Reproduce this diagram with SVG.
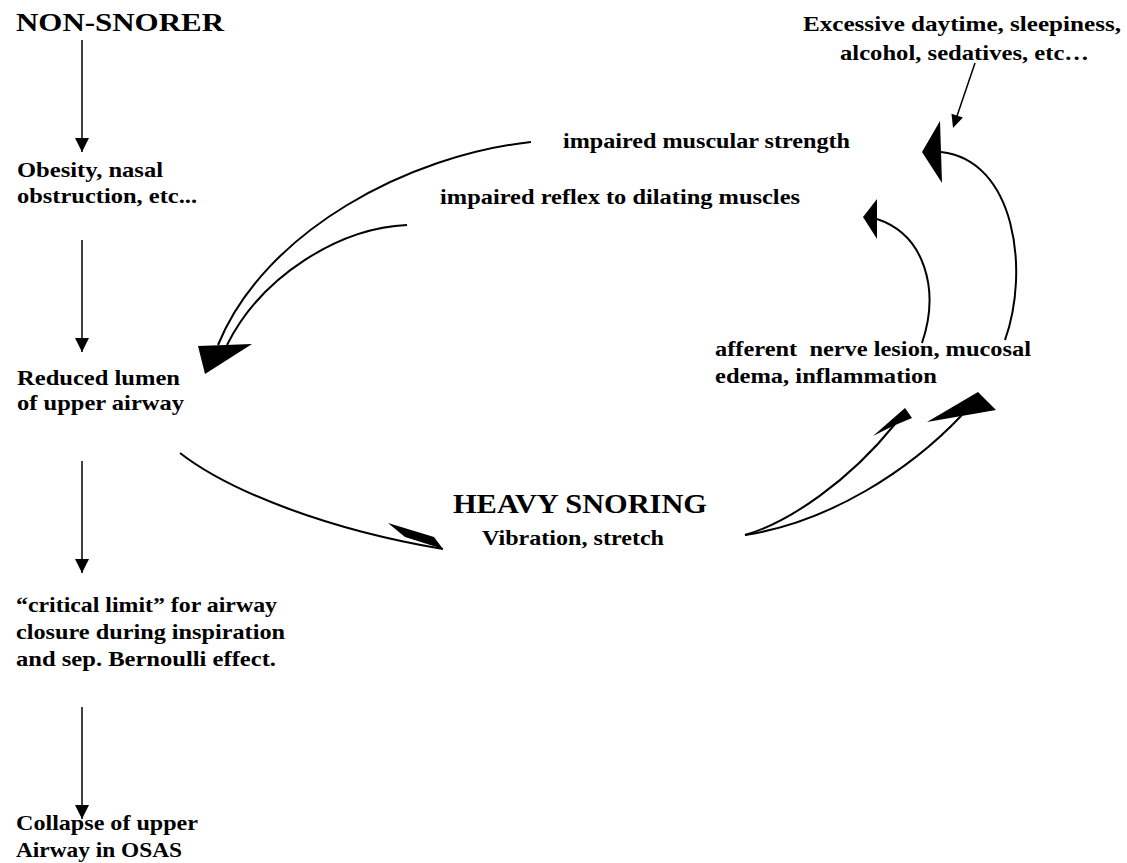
<svg xmlns="http://www.w3.org/2000/svg" width="1127" height="863" viewBox="0 0 1127 863">
<style>
text{font-family:"Liberation Serif","Times New Roman",serif;font-weight:bold;fill:#000;}
.b{font-size:22px;}
.h{font-size:26px;}
.c{fill:none;stroke:#000;stroke-width:2;}
.v{fill:none;stroke:#000;stroke-width:1.5;}
.ah{fill:#000;stroke:none;}
</style>
<defs>
<marker id="arr" viewBox="0 0 14 15" refX="14" refY="7" markerWidth="14" markerHeight="15" markerUnits="userSpaceOnUse" orient="auto">
<path d="M0,0 L14,7 L0,14 Z" fill="#000"/>
</marker>
</defs>
<rect width="1127" height="863" fill="#fff"/>
<g id="non-snorer"><text class="h" x="16" y="31" textLength="208" lengthAdjust="spacingAndGlyphs">NON-SNORER</text></g>
<g id="obesity">
<text class="b" x="17" y="177" textLength="146" lengthAdjust="spacingAndGlyphs">Obesity, nasal</text>
<text class="b" x="17" y="203" textLength="180" lengthAdjust="spacingAndGlyphs">obstruction, etc...</text>
</g>
<g id="reduced-lumen">
<text class="b" x="17" y="385" textLength="163" lengthAdjust="spacingAndGlyphs">Reduced lumen</text>
<text class="b" x="17" y="410" textLength="167" lengthAdjust="spacingAndGlyphs">of upper airway</text>
</g>
<g id="critical-limit">
<text class="b" x="16" y="612" textLength="261" lengthAdjust="spacingAndGlyphs">“critical limit” for airway</text>
<text class="b" x="16" y="639" textLength="269" lengthAdjust="spacingAndGlyphs">closure during inspiration</text>
<text class="b" x="16" y="666" textLength="260" lengthAdjust="spacingAndGlyphs">and sep. Bernoulli effect.</text>
</g>
<g id="collapse">
<text class="b" x="16" y="830" textLength="182" lengthAdjust="spacingAndGlyphs">Collapse of upper</text>
<text class="b" x="16" y="857" textLength="166" lengthAdjust="spacingAndGlyphs">Airway in OSAS</text>
</g>
<g id="muscular-strength"><text class="b" x="563" y="148" textLength="287" lengthAdjust="spacingAndGlyphs">impaired muscular strength</text></g>
<g id="reflex"><text class="b" x="440" y="204" textLength="360" lengthAdjust="spacingAndGlyphs">impaired reflex to dilating muscles</text></g>
<g id="excessive">
<text class="b" x="803" y="31" textLength="318" lengthAdjust="spacingAndGlyphs">Excessive daytime, sleepiness,</text>
<text class="b" x="840" y="60" textLength="249" lengthAdjust="spacingAndGlyphs">alcohol, sedatives, etc…</text>
</g>
<g id="afferent">
<text class="b" x="715" y="356" textLength="316" lengthAdjust="spacingAndGlyphs" xml:space="preserve">afferent  nerve lesion, mucosal</text>
<text class="b" x="715" y="383" textLength="222" lengthAdjust="spacingAndGlyphs">edema, inflammation</text>
</g>
<g id="heavy-snoring">
<text class="h" x="453" y="513" style="font-size:27px" textLength="254" lengthAdjust="spacingAndGlyphs">HEAVY SNORING</text>
<text class="b" x="482" y="545" textLength="182" lengthAdjust="spacingAndGlyphs">Vibration, stretch</text>
</g>
<g id="connectors">
<line class="v" x1="82" y1="40" x2="82" y2="152" marker-end="url(#arr)"/>
<line class="v" x1="82" y1="240" x2="82" y2="352" marker-end="url(#arr)"/>
<line class="v" x1="82" y1="461" x2="82" y2="573" marker-end="url(#arr)"/>
<line class="v" x1="82" y1="707" x2="82" y2="819" marker-end="url(#arr)"/>
<path class="c" d="M531,142 C410,155 265,230 218,345"/>
<path class="c" d="M407,225 C340,228 262,275 227,345"/>
<polygon class="ah" points="198,346 252,344 205,374"/>
<path class="c" d="M180,453 C230,492 330,530 443,549"/>
<polygon class="ah" points="388,523 434,537 443,549 405,537"/>
<path class="c" d="M745,535 C790,522 850,480 895,424"/>
<polygon class="ah" points="873,436 905,408 912,418 893,426"/>
<path class="c" d="M745,535 C830,522 910,470 962,415"/>
<polygon class="ah" points="927,422 978,392 996,410"/>
<path class="c" d="M922,343 C940,290 925,235 877,219"/>
<polygon class="ah" points="863,217 877,199 877,239"/>
<path class="c" d="M1005,340 C1030,270 1015,160 941,152"/>
<polygon class="ah" points="922,152 940,121 942,183"/>
<line class="v" x1="975" y1="63" x2="957" y2="116"/>
<polygon class="ah" points="953,128 951.5,113.8 962.9,117.6"/>
</g>
</svg>
